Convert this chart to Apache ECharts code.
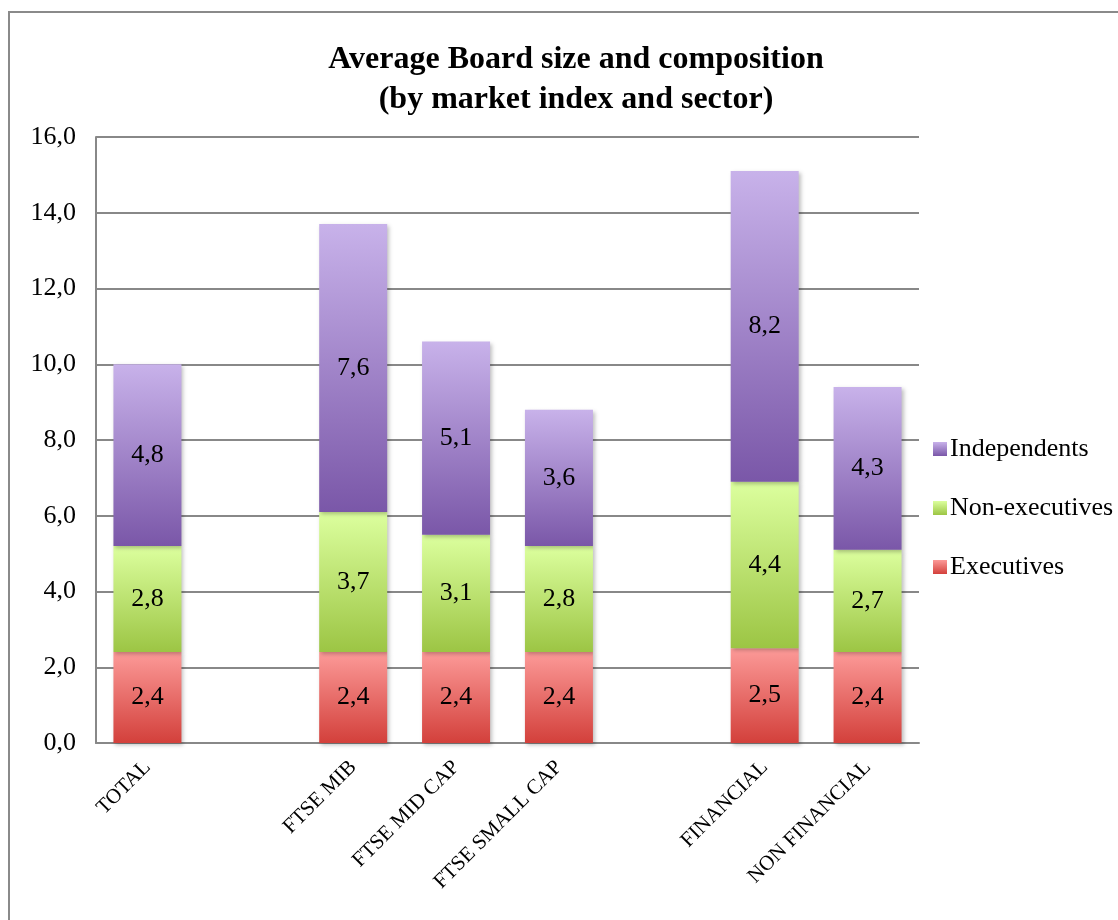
<!DOCTYPE html>
<html>
<head>
<meta charset="utf-8">
<script src="https://cdn.jsdelivr.net/npm/echarts@6/dist/echarts.min.js"></script>
<style>
  html, body { margin: 0; padding: 0; background: #fff; }
  #chart { width: 1118px; height: 920px; }
</style>
</head>
<body>
<div id="chart"></div>
<script>
// categories (blank slots separate the groups)
const categories = ['TOTAL', '', 'FTSE MIB', 'FTSE MID CAP', 'FTSE SMALL CAP', '', 'FINANCIAL', 'NON FINANCIAL'];
const executives = [2.4, null, 2.4, 2.4, 2.4, null, 2.5, 2.4];
const nonExecutives = [2.8, null, 3.7, 3.1, 2.8, null, 4.4, 2.7];
const independents = [4.8, null, 7.6, 5.1, 3.6, null, 8.2, 4.3];

const fmt = v => v.toFixed(1).replace('.', ',');
const font = '"Liberation Serif", "Times New Roman", serif';

const grad = (top, bottom) => new echarts.graphic.LinearGradient(0, 0, 0, 1, [
  { offset: 0, color: top },
  { offset: 1, color: bottom }
]);

const barStyle = (top, bottom) => ({
  color: grad(top, bottom),
  shadowColor: 'rgba(0,0,0,0.25)',
  shadowBlur: 4,
  shadowOffsetX: 2,
  shadowOffsetY: 2
});

const labelStyle = {
  show: true,
  position: 'inside',
  color: '#000',
  fontFamily: font,
  fontSize: 26,
  formatter: p => fmt(p.value)
};

const chart = echarts.init(document.getElementById('chart'));
chart.setOption({
  animation: false,
  backgroundColor: '#fff',
  graphic: [{
    type: 'rect',
    shape: { x: 9, y: 12, width: 1200, height: 1000 },
    style: { fill: 'none', stroke: '#8a8a8a', lineWidth: 2 },
    silent: true
  }],
  title: {
    text: 'Average Board size and composition\n(by market index and sector)',
    left: 571,
    top: 35,
    textAlign: 'center',
    textStyle: {
      fontFamily: font,
      fontSize: 32,
      fontWeight: 'bold',
      color: '#000',
      lineHeight: 40
    }
  },
  legend: {
    orient: 'vertical',
    left: 933,
    top: 436,
    padding: 0,
    itemWidth: 14,
    itemHeight: 14,
    itemGap: 33,
    icon: 'rect',
    data: ['Independents', 'Non-executives', 'Executives'],
    textStyle: { fontFamily: font, fontSize: 26, color: '#000', padding: [0, 0, 0, -2] }
  },
  grid: { left: 96, right: 199, top: 137, bottom: 177 },
  xAxis: {
    type: 'category',
    data: categories,
    axisLine: { lineStyle: { color: '#888', width: 2 } },
    axisTick: { show: false },
    axisLabel: {
      interval: 0,
      rotate: 45,
      margin: 21,
      color: '#000',
      fontFamily: font,
      fontSize: 21
    }
  },
  yAxis: {
    type: 'value',
    min: 0,
    max: 16,
    interval: 2,
    axisLine: { show: true, lineStyle: { color: '#888', width: 2 } },
    axisTick: { show: false },
    splitLine: { lineStyle: { color: '#888', width: 2 } },
    axisLabel: {
      margin: 20,
      color: '#000',
      fontFamily: font,
      fontSize: 26,
      formatter: v => fmt(v)
    }
  },
  series: [
    {
      name: 'Executives',
      type: 'bar',
      stack: 'board',
      barWidth: 68,
      data: executives,
      itemStyle: barStyle('#fc9a98', '#d3403b'),
      label: labelStyle
    },
    {
      name: 'Non-executives',
      type: 'bar',
      stack: 'board',
      barWidth: 68,
      data: nonExecutives,
      itemStyle: barStyle('#dcff9e', '#9cc544'),
      label: labelStyle
    },
    {
      name: 'Independents',
      type: 'bar',
      stack: 'board',
      barWidth: 68,
      data: independents,
      itemStyle: barStyle('#c8b2ea', '#7a57a8'),
      label: labelStyle
    }
  ]
});
</script>
</body>
</html>
